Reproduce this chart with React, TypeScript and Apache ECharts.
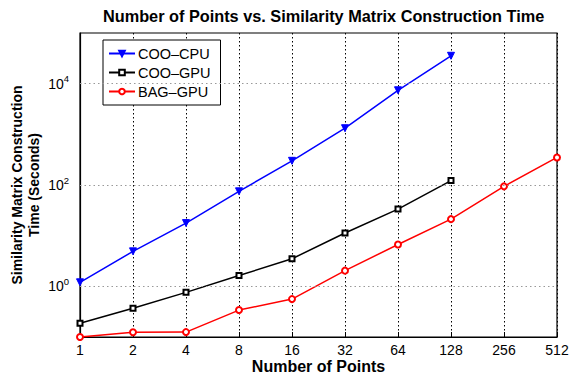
import React, { useEffect, useRef } from "react";
import * as echarts from "echarts";

const categories = ["1", "2", "4", "8", "16", "32", "64", "128", "256", "512"];
const cooCpu = [1.2, 4.9, 17.7, 75, 300, 1320, 7400, 35500];
const cooGpu = [0.186, 0.37, 0.76, 1.63, 3.5, 11.3, 33.5, 122];
const bagGpu = [0.1, 0.124, 0.125, 0.34, 0.56, 2.04, 6.7, 21.2, 94, 350];
const yLabelExponents = [0, 2, 4];
const yMinExp = -1;
const yMaxExp = 5;

const FONT = "'Liberation Sans', Arial, Helvetica, sans-serif";
const lg = (arr: number[]) => arr.map((v) => Math.log10(v));

export default function App() {
  const ref = useRef<HTMLDivElement>(null);
  useEffect(() => {
    if (!ref.current) return;
    const chart = echarts.init(ref.current, undefined, { renderer: "svg" });
    chart.setOption({
      animation: false,
      backgroundColor: "#fff",
      textStyle: { fontFamily: FONT },
      title: {
        text: "Number of Points vs. Similarity Matrix Construction Time",
        left: 103,
        top: 8,
        padding: 0,
        textStyle: { fontFamily: FONT, fontSize: 16.3, fontWeight: "bold", color: "#000" },
      },
      legend: {
        orient: "vertical",
        left: 103,
        top: 40,
        padding: [6, 10, 6, 5],
        itemGap: 4,
        itemWidth: 26,
        itemHeight: 7,
        backgroundColor: "#fff",
        borderColor: "#000",
        borderWidth: 1,
        borderRadius: 0,
        textStyle: { fontFamily: FONT, fontSize: 14.5, color: "#000", padding: [0, 0, 0, -2] },
        data: ["COO\u2013CPU", "COO\u2013GPU", "BAG\u2013GPU"],
      },
      grid: {
        left: 80,
        right: 13,
        top: 33,
        bottom: 37,
        containLabel: false,
        outerBoundsMode: "none",
        show: true,
        borderColor: "#000",
        borderWidth: 1.2,
        backgroundColor: "transparent",
      },
      xAxis: {
        type: "category",
        data: categories,
        boundaryGap: false,
        name: "Number of Points",
        nameLocation: "middle",
        nameGap: 21,
        nameMoveOverlap: false,
        nameTextStyle: { fontFamily: FONT, fontSize: 16, fontWeight: "bold", color: "#000", lineHeight: 16 },
        axisLine: { onZero: false, lineStyle: { color: "#000", width: 1.2 } },
        axisTick: { show: true, inside: true, length: 5, alignWithLabel: true, lineStyle: { color: "#000" } },
        axisLabel: { fontFamily: FONT, fontSize: 14, color: "#000", margin: 5, lineHeight: 15 },
        splitLine: { show: true, lineStyle: { color: "#000", type: [1.5, 2.5], width: 1 } },
      },
      yAxis: {
        type: "value",
        min: yMinExp,
        max: yMaxExp,
        interval: 1,
        name: "Similarity Matrix Construction\nTime (Seconds)",
        nameLocation: "middle",
        nameRotate: 90,
        nameGap: 38,
        nameMoveOverlap: false,
        nameTextStyle: { fontFamily: FONT, fontSize: 14, fontWeight: "bold", color: "#000", lineHeight: 17 },
        axisLine: { show: true, onZero: false, lineStyle: { color: "#000", width: 1.2 } },
        axisTick: { show: false },
        axisLabel: {
          margin: 11,
          formatter: (v: number) => {
            const e = Math.round(v);
            if (Math.abs(v - e) < 1e-6 && yLabelExponents.includes(e)) {
              return `{b|10}{s|${e}}`;
            }
            return "";
          },
          rich: {
            b: { fontFamily: FONT, fontSize: 14, color: "#000" },
            s: { fontFamily: FONT, fontSize: 9.5, color: "#000", padding: [0, 0, 10, 0] },
          },
        },
        splitLine: { show: false },
      },
      series: [
        {
          name: "COO\u2013CPU",
          type: "line",
          data: lg(cooCpu),
          symbol: "triangle",
          symbolRotate: 180,
          symbolSize: 7,
          clip: false,
          lineStyle: { color: "#0000ff", width: 1.5 },
          itemStyle: { color: "#0000ff", borderColor: "#0000ff", borderWidth: 1 },
          markLine: {
            silent: true,
            symbol: "none",
            label: { show: false },
            lineStyle: { color: "#999", type: [1.5, 3], width: 1 },
            data: yLabelExponents.map((e) => ({ yAxis: e })),
          },
        },
        {
          name: "COO\u2013GPU",
          type: "line",
          data: lg(cooGpu),
          symbol: "emptyRect",
          symbolSize: 5,
          clip: false,
          lineStyle: { color: "#000", width: 1.5 },
          itemStyle: { color: "#000", borderColor: "#000", borderWidth: 1.5 },
        },
        {
          name: "BAG\u2013GPU",
          type: "line",
          data: lg(bagGpu),
          symbol: "emptyCircle",
          symbolSize: 6,
          clip: false,
          lineStyle: { color: "#ff0000", width: 1.5 },
          itemStyle: { color: "#ff0000", borderColor: "#ff0000", borderWidth: 1.3 },
        },
      ],
    });
    return () => chart.dispose();
  }, []);
  return <div ref={ref} style={{ width: 570, height: 374, position: "absolute", left: 0, top: 0 }} />;
}
